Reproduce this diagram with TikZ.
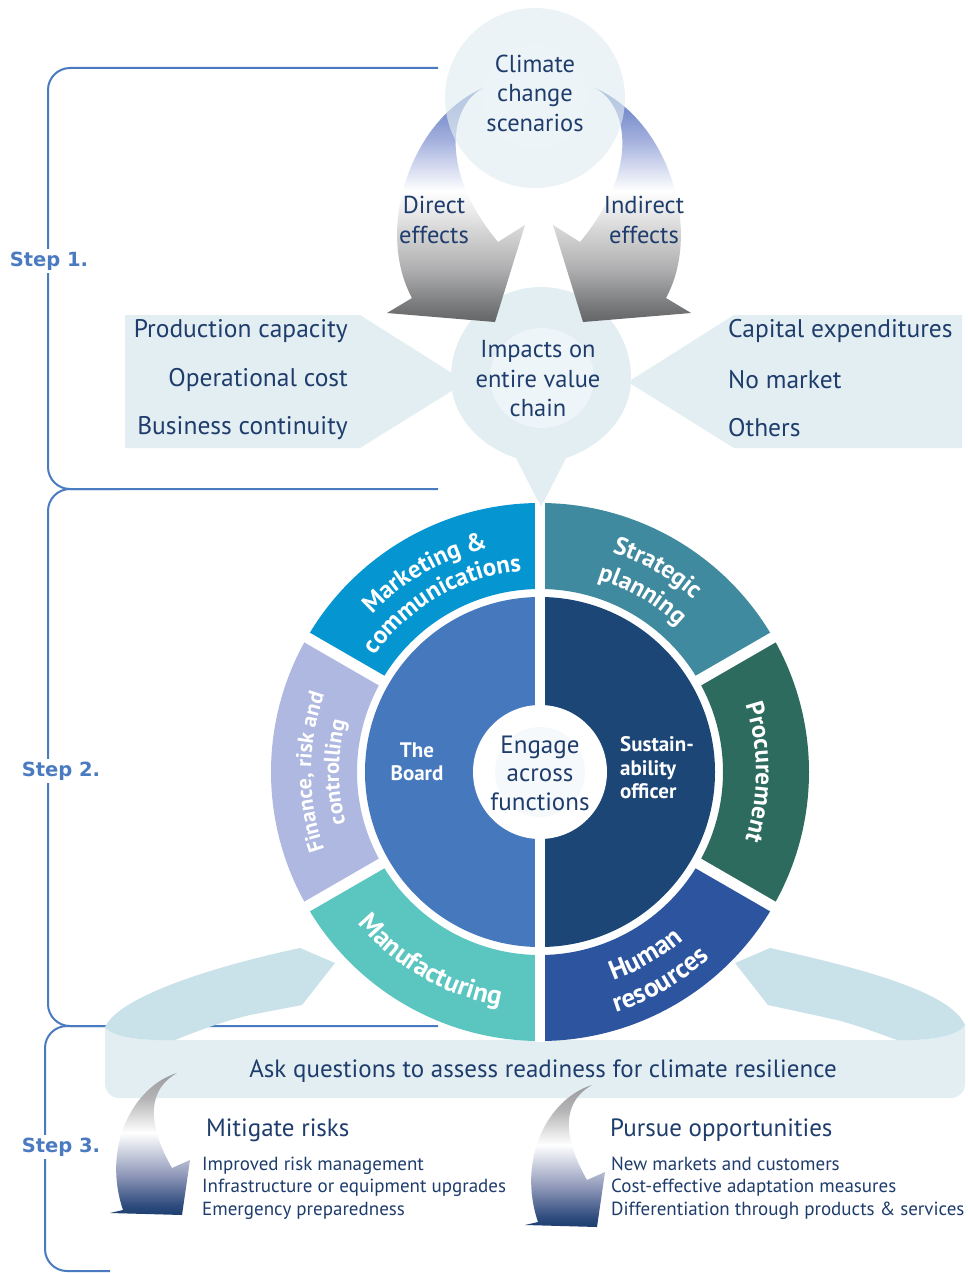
\documentclass[tikz,border=0pt]{standalone}
\usepackage{fontspec}
\setmainfont{PT Sans}
\newfontfamily\stepfont{DejaVu Sans}
\usetikzlibrary{decorations.text}

% palette
\definecolor{navy}{HTML}{1F3D6C}
\definecolor{stepblue}{HTML}{4A7BC0}
\definecolor{paleblue}{HTML}{E2EEF2}
\definecolor{palerblue}{HTML}{EEF5F8}
\definecolor{wingblue}{HTML}{C9E2E9}
\definecolor{mktblue}{HTML}{0595D0}
\definecolor{strateal}{HTML}{3F8A9E}
\definecolor{procgreen}{HTML}{2D6B5F}
\definecolor{hrblue}{HTML}{2D549F}
\definecolor{mfgturq}{HTML}{5BC5BF}
\definecolor{finlav}{HTML}{AEB8E0}
\definecolor{boardblue}{HTML}{4678BD}
\definecolor{susnavy}{HTML}{1B4676}
% effect arrows (blue -> white -> grey)
\definecolor{effgray}{HTML}{646567}
\definecolor{effgrayA}{HTML}{757678}
\definecolor{effgrayB}{HTML}{ADADAF}
\definecolor{effgrayC}{HTML}{D8D8D9}
\definecolor{effblueB}{HTML}{A3B0DD}
\definecolor{effblue}{HTML}{6D85C7}
\definecolor{effblueD}{HTML}{6680C4}
% action arrows (grey -> white -> navy)
\definecolor{actnavy}{HTML}{1C3E6F}
\definecolor{actnavyB}{HTML}{2F4C7E}
\definecolor{actmid}{HTML}{8E97B8}
\definecolor{actlight}{HTML}{D7DBE6}
\definecolor{actgrayL}{HTML}{B5B5B7}
\definecolor{actgray}{HTML}{9A9B9D}

\pgfdeclareverticalshading{effectshade}{100bp}{color(0bp)=(effgray); color(25bp)=(effgray);
  color(28bp)=(effgrayA); color(36bp)=(effgrayB); color(45bp)=(effgrayC); color(53bp)=(white);
  color(64bp)=(effblueB); color(72bp)=(effblue); color(75bp)=(effblueD); color(100bp)=(effblueD)}
\pgfdeclareverticalshading{actionshade}{100bp}{color(0bp)=(actnavy); color(25bp)=(actnavy);
  color(28.5bp)=(actnavyB); color(39bp)=(actmid); color(48.6bp)=(actlight); color(54bp)=(white);
  color(66bp)=(actgrayL); color(75bp)=(actgray); color(100bp)=(actgray)}

\newcommand\ringfont{\fontsize{25}{25}\selectfont\bfseries}
\newcommand\bigringfont{\fontsize{27}{27}\selectfont\bfseries}
\newcommand\finfont{\fontsize{22}{22}\selectfont\bfseries}

\begin{document}
\begin{tikzpicture}[x=1pt,y=-1pt,
  bodytext/.style={text=navy, font=\fontsize{24.5}{29.5}\selectfont, align=center, inner sep=0pt},
  bannertext/.style={text=navy, font=\fontsize{25.5}{30}\selectfont, inner sep=0pt},
  listtext/.style={text=navy, font=\fontsize{19}{22.5}\selectfont, align=left, inner sep=0pt},
  bracket/.style={draw=stepblue, line width=2pt, rounded corners=22pt},
  steplabel/.style={text=stepblue, font=\stepfont\bfseries\fontsize{19.5}{19.5}\selectfont,
    fill=white, inner sep=3pt},
  whitebold/.style={text=white, font=\fontsize{21}{23.5}\selectfont\bfseries, inner sep=0pt},
  ringtext/.style={decorate, decoration={text along path, text align=center,
    text color=white, text={|\ringfont|#1}}},
  bigringtext/.style={decorate, decoration={text along path, text align=center,
    text color=white, text={|\bigringfont|#1}}},
  fintext/.style={decorate, decoration={text along path, text align=center,
    text color=white, text={|\finfont|#1}}},
  effectarrow/.style={shading=effectshade},
  actionarrow/.style={shading=actionshade}]

\useasboundingbox[fill=white] (0,0) rectangle (967,1273);

% ---------- step brackets ----------
\draw[bracket] (438,68) -| (48,489) -- (438,489);
\draw[bracket] (438,1026) -| (48,489) -- (120,489);
\draw[bracket] (200,1026) -| (45,1271) -- (110,1271);
\node[steplabel] (step1) at (49,261) {Step 1.};
\node[steplabel] (step2) at (61,771) {Step 2.};
\node[steplabel] (step3) at (61,1147) {Step 3.};

% ---------- step 1: impact banners and bubble ----------
\fill[paleblue] (125,315) -- (360,315) -- (466,382) -- (360,448) -- (125,448) -- cycle;
\fill[paleblue] (962,315) -- (734,315) -- (628,382) -- (734,448) -- (962,448) -- cycle;
\fill[paleblue] (541,507) -- (516,458) .. controls (485,448) and (451,420) .. (451,378)
  .. controls (451,328) and (491,287) .. (541,287)
  .. controls (591,287) and (631,328) .. (631,378)
  .. controls (631,420) and (597,448) .. (566,458) -- cycle;
\fill[palerblue] (542,378) ellipse[x radius=52, y radius=50];

\node[bannertext, anchor=east] (prod) at (348,331) {Production capacity};
\node[bannertext, anchor=east] (opcost) at (348,380) {Operational cost};
\node[bannertext, anchor=east] (contin) at (348,428) {Business continuity};
\node[bannertext, anchor=west] (capex) at (728,331) {Capital expenditures};
\node[bannertext, anchor=west] (nomkt) at (728,380) {No market};
\node[bannertext, anchor=west] (others) at (728,428) {Others};
\node[bodytext] (impacts) at (538,379) {Impacts on\\entire value\\chain};

% ---------- effect arrows ----------
\path[effectarrow] (483,88) .. controls (410,120) and (375,230) .. (412,298)
  -- (387,313) -- (495,322) -- (525,225) -- (498,242)
  .. controls (438,170) and (450,105) .. (483,88) -- cycle;
\begin{scope}[xshift=1078pt, xscale=-1]
\path[effectarrow] (483,88) .. controls (410,120) and (375,230) .. (412,298)
  -- (387,313) -- (495,322) -- (525,225) -- (498,242)
  .. controls (438,170) and (450,105) .. (483,88) -- cycle;
\end{scope}

% ---------- scenarios circle ----------
\node[circle, fill=paleblue, fill opacity=0.65, minimum size=180pt, inner sep=0pt] (scen) at (535,98) {};
\node[circle, fill=palerblue, fill opacity=0.75, minimum size=104pt, inner sep=0pt] (scenin) at (535,97) {};
\node[bodytext] (scentext) at (535,93) {Climate\\change\\scenarios};
\node[bodytext] (direct) at (434,220) {Direct\\effects};
\node[bodytext] (indirect) at (644,220) {Indirect\\effects};

% ---------- step 3 ribbon ----------
\fill[paleblue] (105,1027) .. controls (112,1037) and (140,1041) .. (175,1040) -- (897,1040)
  .. controls (930,1041) and (958,1036) .. (965,1025) -- (965,1083)
  .. controls (965,1092) and (959,1098) .. (950,1098) -- (120,1098)
  .. controls (111,1098) and (105,1092) .. (105,1083) -- cycle;
\fill[wingblue] (105,1027) .. controls (120,995) and (220,965) .. (300,948)
  -- (335,963) -- (302,1005) -- (250,1015)
  .. controls (220,1022) and (195,1032) .. (175,1040)
  .. controls (140,1041) and (112,1037) .. (105,1027) -- cycle;
\fill[wingblue] (965,1025) .. controls (950,990) and (850,966) .. (770,948)
  -- (735,963) -- (768,1005) -- (837,1020)
  .. controls (860,1026) and (880,1034) .. (897,1040)
  .. controls (930,1041) and (958,1036) .. (965,1025) -- cycle;
\node[bodytext, font=\fontsize{25}{30}\selectfont] (ask) at (543,1071) {Ask questions to assess readiness for climate resilience};

% ---------- step 2 wheel ----------
\begin{scope}[shift={(540,772)}, y=1pt]
  \fill[strateal]  (90:269) arc[start angle=90, end angle=30, radius=269] -- (30:183) arc[start angle=30, end angle=90, radius=183] -- cycle;
  \fill[procgreen] (30:269) arc[start angle=30, end angle=-30, radius=269] -- (-30:183) arc[start angle=-30, end angle=30, radius=183] -- cycle;
  \fill[hrblue]    (-30:269) arc[start angle=-30, end angle=-90, radius=269] -- (-90:183) arc[start angle=-90, end angle=-30, radius=183] -- cycle;
  \fill[mfgturq]   (-90:269) arc[start angle=-90, end angle=-150, radius=269] -- (-150:183) arc[start angle=-150, end angle=-90, radius=183] -- cycle;
  \fill[finlav]    (210:269) arc[start angle=210, end angle=150, radius=269] -- (150:183) arc[start angle=150, end angle=210, radius=183] -- cycle;
  \fill[mktblue]   (150:269) arc[start angle=150, end angle=90, radius=269] -- (90:183) arc[start angle=90, end angle=150, radius=183] -- cycle;
  \fill[boardblue] (90:175) arc[start angle=90, end angle=270, radius=175] -- cycle;
  \fill[susnavy]   (-90:175) arc[start angle=-90, end angle=90, radius=175] -- cycle;
  \foreach \a in {30,150,210,330} \draw[white, line width=11pt] (\a:179) -- (\a:272);
  \draw[white, line width=10pt] (0,-270) -- (0,270);

  % segment labels set along the ring
  \path[ringtext={Marketing {\&}}] (150:230) arc[start angle=150, end angle=90, radius=230];
  \path[ringtext=communications] (150:202) arc[start angle=150, end angle=90, radius=202];
  \path[ringtext=Strategic] (88:231) arc[start angle=88, end angle=32, radius=231];
  \path[ringtext=planning] (88:201) arc[start angle=88, end angle=32, radius=201];
  \path[ringtext=Procurement] (28:216) arc[start angle=28, end angle=-28, radius=216];
  \path[bigringtext=Human] (-88:221) arc[start angle=-88, end angle=-32, radius=221];
  \path[bigringtext=resources] (-88:252) arc[start angle=-88, end angle=-32, radius=252];
  \path[bigringtext=Manufacturing] (-150:237) arc[start angle=-150, end angle=-90, radius=237];
  \path[fintext={Finance, risk and}] (208:229) arc[start angle=208, end angle=152, radius=229];
  \path[fintext=controlling] (208:201) arc[start angle=208, end angle=152, radius=201];

  \node[circle, fill=white, minimum size=134pt, inner sep=0pt] (hub) at (0,0) {};
  \node[circle, fill=palerblue, fill opacity=0.5, minimum size=90pt, inner sep=0pt] (hubin) at (0,0) {};
\end{scope}

\fill[paleblue] (528,470) -- (554,470) -- (541,507) -- cycle;

\node[bodytext, font=\fontsize{25}{28.5}\selectfont] (engage) at (540,773) {Engage\\across\\functions};
\node[whitebold, align=center] (board) at (417,762) {The\\Board};
\node[whitebold, align=left, anchor=west] (officer) at (620,768) {Sustain-\\ability\\officer};

% ---------- step 3 outcomes ----------
\begin{scope}[shift={(177,1073)}]
\path[actionarrow] (0,0) .. controls (-45,14) and (-75,75) .. (-54,137) -- (-67,140) -- (5,142)
  -- (13,87) -- (-5,95) .. controls (-25,60) and (-35,20) .. (0,0) -- cycle;
\end{scope}
\begin{scope}[shift={(592,1085)}]
\path[actionarrow] (0,0) .. controls (-45,14) and (-75,75) .. (-54,137) -- (-67,140) -- (5,142)
  -- (13,87) -- (-5,95) .. controls (-25,60) and (-35,20) .. (0,0) -- cycle;
\end{scope}

\node[bodytext, anchor=west, font=\fontsize{25}{30}\selectfont] (mitigate) at (206,1130) {Mitigate risks};
\node[listtext, anchor=west] (risklist) at (202,1188) {Improved risk management\\Infrastructure or equipment upgrades\\Emergency preparedness};
\node[bodytext, anchor=west, font=\fontsize{25}{30}\selectfont] (pursue) at (610,1130) {Pursue opportunities};
\node[listtext, anchor=west] (opplist) at (611,1188) {New markets and customers\\Cost-effective adaptation measures\\Differentiation through products \& services};

\end{tikzpicture}
\end{document}
